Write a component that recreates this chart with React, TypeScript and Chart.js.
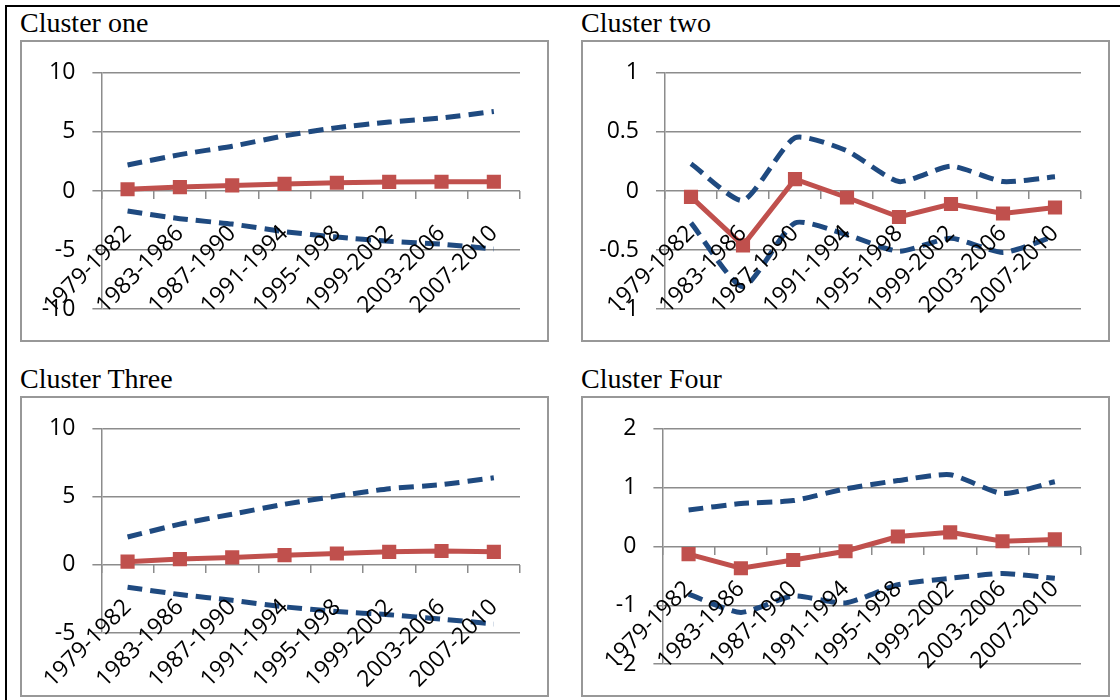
import React, { useEffect, useRef } from "react";
import { Chart, registerables } from "chart.js";

Chart.register(...registerables);

// ---------- data ----------
const categories = [
  "1979-1982",
  "1983-1986",
  "1987-1990",
  "1991-1994",
  "1995-1998",
  "1999-2002",
  "2003-2006",
  "2007-2010",
];

const titleOne = "Cluster one";
const titleTwo = "Cluster two";
const titleThree = "Cluster Three";
const titleFour = "Cluster Four";

const oneMean = [0.15, 0.33, 0.47, 0.6, 0.7, 0.77, 0.78, 0.78];
const oneUpper = [2.2, 3.08, 3.79, 4.67, 5.36, 5.83, 6.18, 6.73];
const oneLower = [-1.7, -2.34, -2.8, -3.44, -3.9, -4.26, -4.5, -4.9];
const oneTicks = [-10, -5, 0, 5, 10];

const twoMean = [-0.05, -0.46, 0.1, -0.055, -0.22, -0.11, -0.19, -0.14];
const twoUpper = [0.23, -0.08, 0.45, 0.34, 0.08, 0.21, 0.08, 0.12];
const twoLower = [-0.27, -0.81, -0.27, -0.37, -0.51, -0.4, -0.52, -0.38];
const twoTicks = [-1, -0.5, 0, 0.5, 1];

const threeMean = [0.24, 0.43, 0.55, 0.72, 0.84, 0.96, 1.02, 0.96];
const threeUpper = [2.05, 3.0, 3.73, 4.46, 5.06, 5.6, 5.9, 6.4];
const threeLower = [-1.64, -2.17, -2.6, -3.08, -3.42, -3.66, -3.98, -4.34];
const threeTicks = [-5, 0, 5, 10];

const fourMean = [-0.13, -0.37, -0.23, -0.08, 0.17, 0.24, 0.09, 0.12];
const fourUpper = [0.62, 0.73, 0.78, 0.98, 1.12, 1.22, 0.9, 1.1];
const fourLower = [-0.81, -1.12, -0.84, -0.96, -0.65, -0.54, -0.46, -0.54];
const fourTicks = [-2, -1, 0, 1, 2];

// ---------- styles ----------
const RED = "#C0504D";
const BLUE = "#1F4A80";
const GRID = "#8C8C8C";
const FRAME = "#989898";
const TICK_FONT = { family: "'Open Sans'", size: 23 };

type Box = { left: number; top: number; width: number; height: number };
type Area = { left: number; right: number; top: number; bottom: number };

function Panel(props: {
  title: string;
  box: Box;
  titleTop: number;
  area: Area;
  mean: number[];
  upper: number[];
  lower: number[];
  ticks: number[];
}) {
  const { title, box, titleTop, area, mean, upper, lower, ticks } = props;
  const ref = useRef<HTMLCanvasElement>(null);
  const W = box.width - 4;
  const H = box.height - 4;

  useEffect(() => {
    const canvas = ref.current;
    if (!canvas) return;
    const chart = new Chart(canvas, {
      type: "line",
      data: {
        labels: categories,
        datasets: [
          {
            data: mean,
            borderColor: RED,
            backgroundColor: RED,
            borderWidth: 5,
            pointStyle: "rect",
            pointRadius: 10,
            pointBorderWidth: 0,
            pointBackgroundColor: RED,
            tension: 0,
          },
          {
            data: upper,
            borderColor: BLUE,
            borderWidth: 5,
            borderDash: [15, 8],
            pointRadius: 0,
            tension: 0.2,
          },
          {
            data: lower,
            borderColor: BLUE,
            borderWidth: 5,
            borderDash: [15, 8],
            pointRadius: 0,
            tension: 0.2,
          },
        ],
      },
      options: {
        animation: false,
        responsive: false,
        maintainAspectRatio: false,
        layout: {
          padding: {
            top: area.top,
            right: W - area.right,
            bottom: H - area.bottom,
            left: 0,
          },
        },
        plugins: {
          legend: { display: false },
          tooltip: { enabled: false },
          title: { display: false },
        },
        scales: {
          x: {
            type: "category",
            position: { y: 0 } as any,
            offset: true,
            grid: {
              offset: true,
              drawOnChartArea: false,
              drawTicks: true,
              tickLength: 8,
              color: GRID,
              lineWidth: 1.5,
            },
            border: { display: false },
            ticks: {
              autoSkip: false,
              minRotation: 45,
              maxRotation: 45,
              padding: 21,
              color: "#000",
              font: TICK_FONT,
              z: 1,
            },
          },
          y: {
            min: ticks[0],
            max: ticks[ticks.length - 1],
            afterBuildTicks: (s: any) => {
              s.ticks = ticks.map((v) => ({ value: v }));
            },
            afterFit: (s: any) => {
              s.width = area.left;
            },
            grid: {
              color: GRID,
              lineWidth: 1.5,
              drawTicks: true,
              tickLength: 9,
            },
            border: { color: GRID, width: 1.5 },
            ticks: {
              padding: 17,
              color: "#000",
              font: TICK_FONT,
              callback: (v: any) => String(v),
            },
          },
        },
      },
    });
    return () => chart.destroy();
  }, []);

  return (
    <>
      <div
        style={{
          position: "absolute",
          left: box.left,
          top: titleTop,
          font: "28px 'Liberation Serif', 'Times New Roman', serif",
          lineHeight: "28px",
          whiteSpace: "nowrap",
          color: "#000",
        }}
      >
        {title}
      </div>
      <div
        style={{
          position: "absolute",
          left: box.left,
          top: box.top,
          width: box.width,
          height: box.height,
          boxSizing: "border-box",
          border: `2px solid ${FRAME}`,
          background: "#fff",
        }}
      >
        <canvas ref={ref} width={W} height={H} style={{ display: "block" }} />
      </div>
    </>
  );
}

export default function App() {
  return (
    <div
      style={{
        position: "absolute",
        left: 0,
        top: 0,
        width: 1120,
        height: 700,
        background: "#fff",
        overflow: "hidden",
      }}
    >
      <div
        style={{
          position: "absolute",
          left: 5,
          top: 5,
          width: 1120,
          height: 700,
          borderTop: "2px solid #000",
          borderLeft: "2px solid #000",
        }}
      />
      <Panel
        title={titleOne}
        box={{ left: 20, top: 40, width: 529, height: 302 }}
        titleTop={9}
        area={{ left: 79, right: 498, top: 27, bottom: 270 }}
        mean={oneMean}
        upper={oneUpper}
        lower={oneLower}
        ticks={oneTicks}
      />
      <Panel
        title={titleTwo}
        box={{ left: 581, top: 40, width: 529, height: 302 }}
        titleTop={9}
        area={{ left: 82, right: 498, top: 27, bottom: 270 }}
        mean={twoMean}
        upper={twoUpper}
        lower={twoLower}
        ticks={twoTicks}
      />
      <Panel
        title={titleThree}
        box={{ left: 20, top: 396, width: 529, height: 301 }}
        titleTop={365}
        area={{ left: 79, right: 498, top: 27, bottom: 235 }}
        mean={threeMean}
        upper={threeUpper}
        lower={threeLower}
        ticks={threeTicks}
      />
      <Panel
        title={titleFour}
        box={{ left: 581, top: 396, width: 529, height: 301 }}
        titleTop={365}
        area={{ left: 79, right: 498, top: 27, bottom: 269 }}
        mean={fourMean}
        upper={fourUpper}
        lower={fourLower}
        ticks={fourTicks}
      />
    </div>
  );
}
